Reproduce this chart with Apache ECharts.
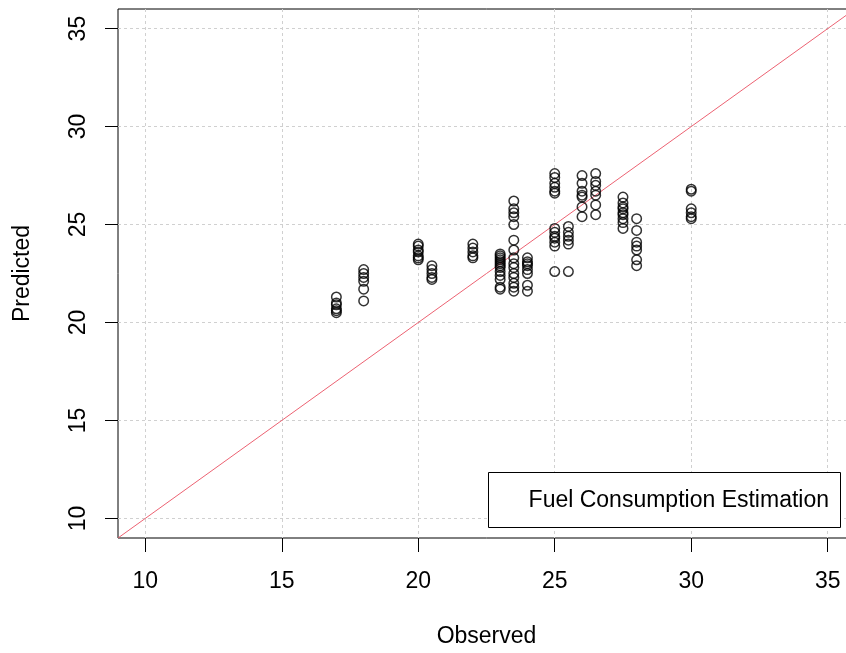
<!DOCTYPE html>
<html>
<head>
<meta charset="utf-8">
<script src="https://cdn.jsdelivr.net/npm/echarts@6/dist/echarts.min.js"></script>
<style>
  html, body { margin: 0; padding: 0; background: #fff; overflow: hidden; }
  #chart { width: 860px; height: 653px; }
</style>
</head>
<body>
<div id="chart"></div>
<script>
// observed values (x) and the predicted values read for each one
var observedLevels = [17, 18, 20, 20.5, 22, 23, 23.5, 24, 25, 25.5, 26, 26.5, 27.5, 28, 30];
var predictedByLevel = [
  [21.3, 21.0, 20.9, 20.7, 20.6, 20.5],
  [22.7, 22.5, 22.3, 22.1, 21.7, 21.1],
  [24.0, 23.9, 23.7, 23.6, 23.4, 23.3, 23.2],
  [22.9, 22.7, 22.5, 22.3, 22.2],
  [24.0, 23.8, 23.6, 23.4, 23.3],
  [23.5, 23.4, 23.3, 23.2, 23.1, 23.0, 22.9, 22.8, 22.6, 22.4, 22.2, 21.8, 21.7],
  [26.2, 25.8, 25.6, 25.4, 25.0, 24.2, 23.7, 23.3, 23.0, 22.8, 22.5, 22.3, 22.0, 21.8, 21.6],
  [23.3, 23.1, 23.0, 22.9, 22.7, 22.5, 21.9, 21.6],
  [27.6, 27.4, 27.1, 26.9, 26.7, 26.6, 24.8, 24.6, 24.4, 24.3, 24.1, 23.9, 22.6],
  [24.9, 24.6, 24.4, 24.2, 24.0, 22.6],
  [27.5, 27.1, 26.7, 26.5, 26.4, 25.9, 25.4],
  [27.6, 27.2, 27.0, 26.7, 26.5, 26.0, 25.5],
  [26.4, 26.1, 25.9, 25.8, 25.6, 25.5, 25.3, 25.1, 24.8],
  [25.3, 24.7, 24.1, 23.9, 23.7, 23.2, 22.9],
  [26.8, 26.7, 25.8, 25.6, 25.4, 25.3]
];
var tickValues = [10, 15, 20, 25, 30, 35];
var axisMin = 9;
var axisMax = 36;

var points = [];
observedLevels.forEach(function (x, i) {
  predictedByLevel[i].forEach(function (y) {
    points.push([x, y]);
  });
});

var font = "'Liberation Sans', Arial, sans-serif";

// chart div is a bit wider than the window: the plot box runs off the right edge
var myChart = echarts.init(document.getElementById('chart'));
myChart.setOption({
  animation: false,
  grid: {
    left: 118, top: 9, width: 737, height: 529,
    show: true, borderColor: '#000', borderWidth: 1, backgroundColor: 'transparent'
  },
  xAxis: {
    type: 'value', min: axisMin, max: axisMax,
    name: 'Observed', nameLocation: 'middle', nameGap: 87,
    nameTextStyle: { fontSize: 23, fontFamily: font, color: '#000' },
    axisLine: { show: false },
    axisTick: { show: true, length: 14, customValues: tickValues, lineStyle: { color: '#000' } },
    axisLabel: { customValues: tickValues, margin: 32, fontSize: 23, fontFamily: font, color: '#000' },
    splitLine: { show: true, lineStyle: { color: '#d0d0d0', type: [3, 3], width: 1 } }
  },
  yAxis: {
    type: 'value', min: axisMin, max: axisMax,
    name: 'Predicted', nameLocation: 'middle', nameGap: 84,
    nameTextStyle: { fontSize: 23, fontFamily: font, color: '#000' },
    axisLine: { show: false },
    axisTick: { show: true, length: 13, customValues: tickValues, lineStyle: { color: '#000' } },
    axisLabel: { customValues: tickValues, rotate: 90, margin: 28, fontSize: 23, fontFamily: font, color: '#000' },
    splitLine: { show: true, lineStyle: { color: '#d0d0d0', type: [3, 3], width: 1 } }
  },
  graphic: [
    {
      type: 'rect', z: 100,
      shape: { x: 488.5, y: 472.5, width: 352, height: 55 },
      style: { fill: '#fff', stroke: '#000', lineWidth: 1 }
    },
    {
      type: 'text', z: 101, x: 829, y: 501,
      style: {
        text: 'Fuel Consumption Estimation', fontSize: 23, fontFamily: font,
        fill: '#000', align: 'right', verticalAlign: 'middle'
      }
    }
  ],
  series: [
    {
      type: 'line',
      data: [[axisMin, axisMin], [axisMax, axisMax]],
      symbol: 'none',
      lineStyle: { color: '#ec6272', width: 1 },
      clip: true,
      z: 2
    },
    {
      type: 'scatter',
      data: points,
      symbol: 'circle',
      symbolSize: 9.5,
      itemStyle: { color: 'transparent', borderColor: '#000', borderWidth: 1.5 },
      z: 3
    }
  ]
});
</script>
</body>
</html>
